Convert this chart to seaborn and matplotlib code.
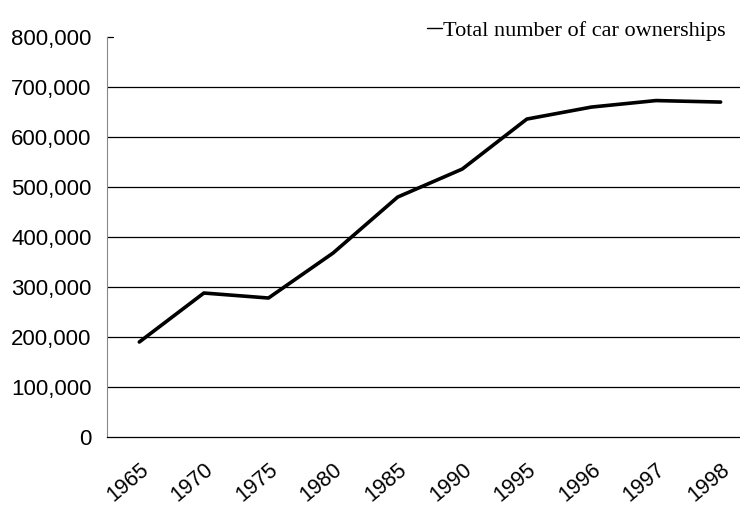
import numpy as np
import pandas as pd
import seaborn as sns
import matplotlib.pyplot as plt
from matplotlib.ticker import FuncFormatter

years = ["1965", "1970", "1975", "1980", "1985", "1990", "1995", "1996", "1997", "1998"]
cars = [190000, 288000, 278000, 368000, 480000, 536000, 636000, 660000, 673000, 670000]
yticks = [0, 100000, 200000, 300000, 400000, 500000, 600000, 700000, 800000]

df = pd.DataFrame({"pos": np.arange(len(years)), "cars": cars})

sns.set_style("white")
plt.rcParams["font.family"] = ["Liberation Sans", "DejaVu Sans"]
plt.rcParams["text.color"] = "black"
plt.rcParams["xtick.color"] = "black"
plt.rcParams["ytick.color"] = "black"

fig = plt.figure(figsize=(7.4, 5.08), dpi=100)
ax = fig.add_axes([0.1446, 0.1398, 0.8554, 0.7872])

# gridlines 100k..700k (no line at 800k)
for v in yticks[1:-1]:
    ax.axhline(v, color="black", lw=0.9, zorder=1)

sns.lineplot(data=df, x="pos", y="cars", color="black", lw=2.6, ax=ax,
             label="Total number of car ownerships", zorder=3)

ax.set_xlim(-0.5, 9.3)
ax.set_ylim(0, 800000)
ax.set_yticks(yticks)
ax.yaxis.set_major_formatter(FuncFormatter(lambda v, p: f"{int(v):,}"))
ax.tick_params(axis="y", length=0, pad=11, labelsize=16)

ax.set_xticks(np.arange(len(years)))
ax.set_xticklabels(years, rotation=40, ha="right", rotation_mode="anchor", fontsize=15.5)
ax.tick_params(axis="x", which="major", length=0, pad=16)
ax.set_xticks(np.arange(8) + 0.5, minor=True)
ax.tick_params(axis="x", which="minor", length=5, direction="in", width=0.9)

ax.set_xlabel("")
ax.set_ylabel("")
for s in ["top", "right"]:
    ax.spines[s].set_visible(False)
ax.spines["left"].set_color("#888888")
ax.spines["left"].set_linewidth(0.8)
ax.spines["bottom"].set_color("black")
ax.spines["bottom"].set_linewidth(0.9)
# small tick at top of y axis
ax.plot([-0.5, -0.4], [800000, 800000], color="black", lw=0.9, clip_on=False)

leg = ax.legend(loc="upper right", bbox_to_anchor=(1.008, 1.0), bbox_transform=fig.transFigure,
                frameon=False, handlelength=0.7, handletextpad=0.05,
                prop={"family": "Liberation Serif", "size": 16})
for h in leg.get_lines():
    h.set_linewidth(1.0)

fig.savefig("out.png", dpi=100)
